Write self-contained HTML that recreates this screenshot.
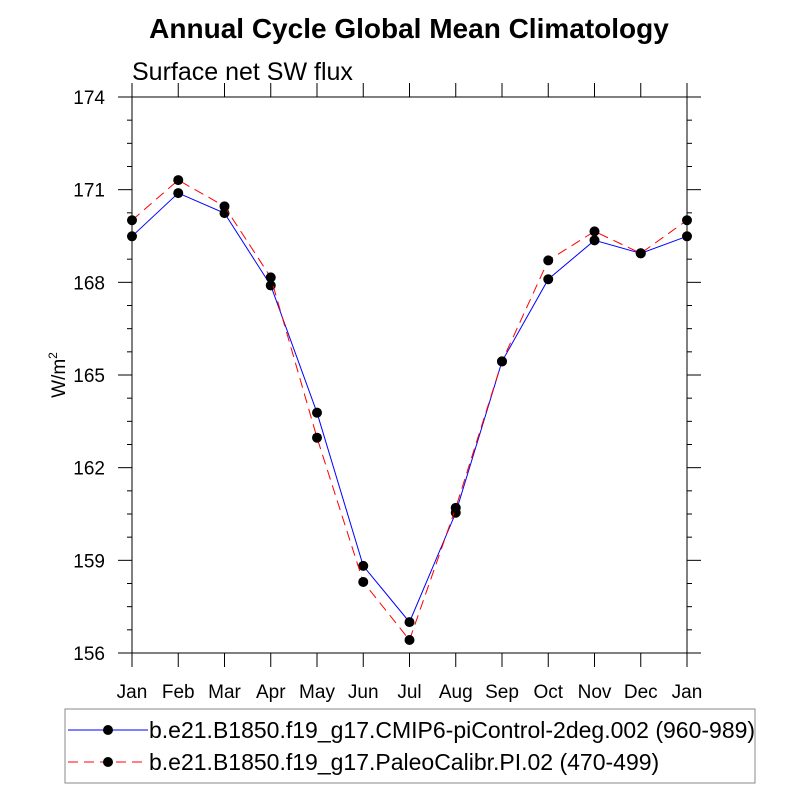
<!DOCTYPE html>
<html><head><meta charset="utf-8"><style>
body{margin:0;background:#fff;}
svg{font-family:"Liberation Sans",sans-serif;}
</style></head><body>
<svg id="chart" width="800" height="800" viewBox="0 0 800 800">
<text x="409" y="38" text-anchor="middle" font-size="28" font-weight="bold">Annual Cycle Global Mean Climatology</text>
<text x="132" y="80" font-size="25">Surface net SW flux</text>
<text transform="translate(65,375) rotate(-90)" text-anchor="middle" font-size="19">W/m<tspan dy="-8" font-size="12">2</tspan></text>
<g id="axes"></g>
<g id="series"></g>
<g>
<rect x="65" y="709" width="690" height="74" fill="none" stroke="#888" stroke-width="1"/>
<g>
<line x1="68" y1="730" x2="148" y2="730" stroke="blue" stroke-width="1"/>
<circle cx="108" cy="730" r="5" fill="#000"/>
<text x="149" y="738" font-size="23">b.e21.B1850.f19_g17.CMIP6-piControl-2deg.002 (960-989)</text>
</g>
<g>
<line x1="68" y1="762" x2="148" y2="762" stroke="red" stroke-width="1" stroke-dasharray="10,6"/>
<circle cx="108" cy="762" r="5" fill="#000"/>
<text x="149" y="770" font-size="23">b.e21.B1850.f19_g17.PaleoCalibr.PI.02 (470-499)</text>
</g>
</g>
</svg>
<script>
const months=["Jan","Feb","Mar","Apr","May","Jun","Jul","Aug","Sep","Oct","Nov","Dec","Jan"];
const yTicks=[156,159,162,165,168,171,174];
const cmip6=[169.49,170.89,170.24,167.9,163.78,158.82,157.0,160.54,165.44,168.1,169.36,168.94,169.49];
const paleo=[170.01,171.31,170.46,168.16,162.97,158.3,156.42,160.7,165.44,168.71,169.65,168.94,170.01];
const NS="http://www.w3.org/2000/svg";
const L=132,R=687,T=97,B=653,ymin=156,ymax=174;
const xs=i=>L+(R-L)*i/(months.length-1);
const ys=v=>B-(v-ymin)/(ymax-ymin)*(B-T);
function mk(tag,at,parent){const e=document.createElementNS(NS,tag);for(const k in at)e.setAttribute(k,at[k]);parent.appendChild(e);return e;}
const ax=document.getElementById('axes');
const fr=mk('rect',{x:L,y:T,width:R-L,height:B-T,fill:'none',stroke:'#000','stroke-width':1},ax);


months.forEach((m,i)=>{const x=xs(i);
mk('line',{x1:x,y1:B,x2:x,y2:B+14,stroke:'#000'},ax);
mk('line',{x1:x,y1:T,x2:x,y2:T-14,stroke:'#000'},ax);
const t=mk('text',{x:x,y:B+45,'text-anchor':'middle','font-size':19},ax);t.textContent=m;


});
for(let v=ymin;v<=ymax+1e-6;v+=0.75){const y=ys(v);const major=Math.abs((v-ymin)%3)<1e-6;const len=major?14:5;
mk('line',{x1:L,y1:y,x2:L-len,y2:y,stroke:'#000'},ax);
mk('line',{x1:R,y1:y,x2:R+len,y2:y,stroke:'#000'},ax);}
yTicks.forEach(v=>{const t=mk('text',{x:105,y:ys(v)+7,'text-anchor':'end','font-size':19},ax);t.textContent=v;


});
const sg=document.getElementById('series');
function draw(arr,color,dash,name){
const g=mk('g',{},sg);


mk('polyline',{points:arr.map((v,i)=>xs(i)+','+ys(v)).join(' '),fill:'none',stroke:color,'stroke-width':1,'stroke-dasharray':dash},g);
arr.forEach((v,i)=>{const c=mk('circle',{cx:xs(i),cy:ys(v),r:5,fill:'#000'},g);

});
}
draw(cmip6,'blue','none','series-cmip6');
draw(paleo,'red','10,6','series-paleocalibr');
</script>
</body></html>
